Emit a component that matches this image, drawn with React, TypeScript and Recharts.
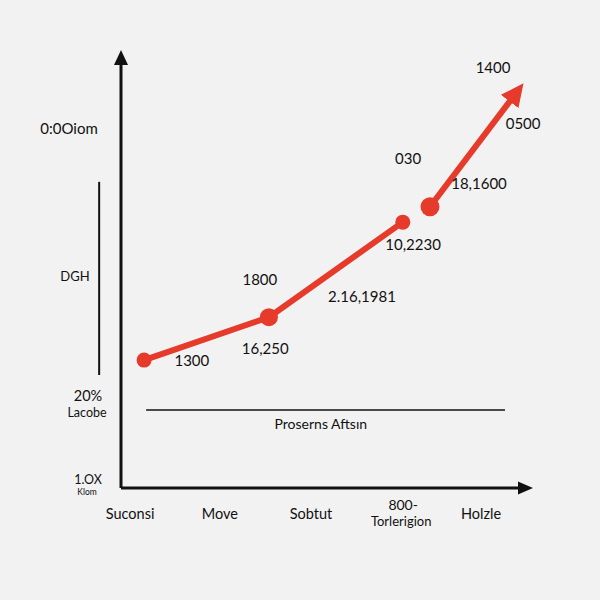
import React from "react";
import {
  LineChart,
  Line,
  XAxis,
  YAxis,
  ReferenceLine,
  ReferenceDot,
} from "recharts";

// ---- data ----
const xTickValues = [0.22, 2.4, 4.61, 6.8, 8.74];
const xTickLabels = ["Suconsi", "Move", "Sobtut", "800-|Torlerigion", "Holzle"];

const yTickValues = [82.2, 48.4, 19.4, 0.9];
const yTickLabels = ["0:0Oiom", "DGH", "20%|Lacobe", "1.OX|Klom"];

const lineAX = [0.56, 3.59, 6.84];
const lineAY = [29.2, 39.0, 60.7];
const lineBX = [7.5, 9.55];
const lineBY = [64.2, 89.7];

const noteTexts = ["1300", "16,250", "1800", "2.16,1981", "10,2230", "030", "18,1600", "0500", "1400"];
const noteX = [1.72, 3.5, 3.37, 5.85, 7.09, 6.97, 8.69, 9.76, 9.03];
const noteY = [29.2, 32.0, 47.7, 43.8, 55.7, 75.3, 69.6, 83.3, 96.1];

const baselineLabel = "Proserns Aftsın";
const baselineFrom = 0.61;
const baselineTo = 9.32;
const baselineY = 17.8;
const baselineLabelX = 4.85;
const baselineLabelY = 14.8;

const sideBarX = -0.53;
const sideBarY1 = 25.8;
const sideBarY2 = 69.9;

const lineA = lineAX.map((x, i) => ({ x, v: lineAY[i] }));
const lineB = lineBX.map((x, i) => ({ x, v: lineBY[i] }));
const notes = noteTexts.map((t, i) => ({ t, x: noteX[i], y: noteY[i] }));

const RED = "#e63a2b";
const INK = "#111111";
const FONT = "Lato, 'Open Sans', sans-serif";

const XTick = (props: any) => {
  const { x, y, payload } = props;
  const idx = xTickValues.indexOf(payload.value);
  const label = xTickLabels[idx] ?? "";
  const parts = label.split("|");
  if (parts.length === 1) {
    return (
      <text x={x} y={y + 17} textAnchor="middle" dominantBaseline="central" fontSize={14.5} fill={INK} fontFamily={FONT}>
        {parts[0]}
      </text>
    );
  }
  return (
    <g>
      <text x={x + 2} y={y + 8} textAnchor="middle" dominantBaseline="central" fontSize={14} fill={INK} fontFamily={FONT}>
        {parts[0]}
      </text>
      <text x={x} y={y + 25} textAnchor="middle" dominantBaseline="central" fontSize={13} fill={INK} fontFamily={FONT}>
        {parts[1]}
      </text>
    </g>
  );
};

const YTick = (props: any) => {
  const { y, payload } = props;
  const idx = yTickValues.indexOf(payload.value);
  const label = yTickLabels[idx] ?? "";
  const parts = label.split("|");
  if (parts.length === 1) {
    return (
      <text x={idx === 0 ? 69 : 75} y={y} textAnchor="middle" dominantBaseline="central" fontSize={idx === 0 ? 15 : 13} fill={INK} fontFamily={FONT}>
        {parts[0]}
      </text>
    );
  }
  const big = idx === 2;
  return (
    <g>
      <text x={88} y={y + (big ? -8 : -5)} textAnchor="middle" dominantBaseline="central" fontSize={big ? 14.5 : 12.5} fill={INK} fontFamily={FONT}>
        {parts[0]}
      </text>
      <text x={87} y={y + (big ? 9 : 8)} textAnchor="middle" dominantBaseline="central" fontSize={big ? 12.5 : 8.5} fill={INK} fontFamily={FONT}>
        {parts[1]}
      </text>
    </g>
  );
};

const DotA = (props: any) => {
  const { cx, cy, index } = props;
  if (cx == null || cy == null) return null;
  return <circle key={`a${index}`} cx={cx} cy={cy} r={index === 1 ? 9 : 7.5} fill={RED} />;
};

const DotB = (props: any) => {
  const { cx, cy, index } = props;
  if (cx == null || cy == null || index !== 0) return <g key={`b${index}`} />;
  return <circle key={`b${index}`} cx={cx} cy={cy} r={9.5} fill={RED} />;
};

const UpArrow = (props: any) => {
  const { cx, cy } = props;
  return <polygon points={`${cx},${cy} ${cx - 7},${cy + 15} ${cx + 7},${cy + 15}`} fill={INK} />;
};

const RightArrow = (props: any) => {
  const { cx, cy } = props;
  return <polygon points={`${cx},${cy} ${cx - 15},${cy - 6.5} ${cx - 15},${cy + 6.5}`} fill={INK} />;
};

const NoteText = (text: string, size: number) => (props: any) => {
  const { cx, cy } = props;
  return (
    <text x={cx} y={cy} textAnchor="middle" dominantBaseline="central" fontSize={size} fill={INK} fontFamily={FONT}>
      {text}
    </text>
  );
};

export default function App() {
  return (
    <div style={{ position: "absolute", left: 0, top: 0, width: 600, height: 600, background: "#f2f2f2" }}>
      <svg width={0} height={0} style={{ position: "absolute" }}>
        <defs>
          <marker id="arrowRed" markerUnits="userSpaceOnUse" markerWidth={24} markerHeight={24} viewBox="0 0 24 24" refX={8} refY={12} orient="auto">
            <path d="M0,1 L23,12 L0,23 z" fill={RED} />
          </marker>
        </defs>
      </svg>
      <LineChart width={600} height={600} margin={{ top: 50, right: 67, bottom: 52, left: 61 }}>
        <XAxis
          type="number"
          dataKey="x"
          domain={[0, 10]}
          ticks={xTickValues}
          axisLine={false}
          tickLine={false}
          tick={<XTick />}
          height={60}
          allowDataOverflow
        />
        <YAxis
          type="number"
          domain={[0, 100]}
          ticks={yTickValues}
          axisLine={false}
          tickLine={false}
          tick={<YTick />}
          width={60}
          allowDataOverflow
        />
        <ReferenceLine segment={[{ x: 0, y: 0 }, { x: 0, y: 97 }]} stroke={INK} strokeWidth={3} ifOverflow="visible" />
        <ReferenceLine segment={[{ x: 0, y: 0 }, { x: 9.7, y: 0 }]} stroke={INK} strokeWidth={3} ifOverflow="visible" />
        <ReferenceDot x={0} y={100} r={0} shape={<UpArrow />} ifOverflow="visible" />
        <ReferenceDot x={10} y={0} r={0} shape={<RightArrow />} ifOverflow="visible" />
        <ReferenceLine segment={[{ x: sideBarX, y: sideBarY1 }, { x: sideBarX, y: sideBarY2 }]} stroke={INK} strokeWidth={2} ifOverflow="visible" />
        <ReferenceLine segment={[{ x: baselineFrom, y: baselineY }, { x: baselineTo, y: baselineY }]} stroke={INK} strokeWidth={1.5} ifOverflow="visible" />
        <ReferenceDot x={baselineLabelX} y={baselineLabelY} r={0} shape={NoteText(baselineLabel, 14)} ifOverflow="visible" />
        {notes.map((n, i) => (
          <ReferenceDot key={i} x={n.x} y={n.y} r={0} shape={NoteText(n.t, 15)} ifOverflow="visible" />
        ))}
        <Line
          data={lineA}
          dataKey="v"
          type="linear"
          stroke={RED}
          strokeWidth={6}
          strokeLinecap="round"
          strokeLinejoin="round"
          dot={<DotA />}
          activeDot={false}
          isAnimationActive={false}
        />
        <Line
          data={lineB}
          dataKey="v"
          type="linear"
          stroke={RED}
          strokeWidth={6}
          strokeLinejoin="round"
          dot={<DotB />}
          activeDot={false}
          markerEnd="url(#arrowRed)"
          isAnimationActive={false}
        />
      </LineChart>
    </div>
  );
}
